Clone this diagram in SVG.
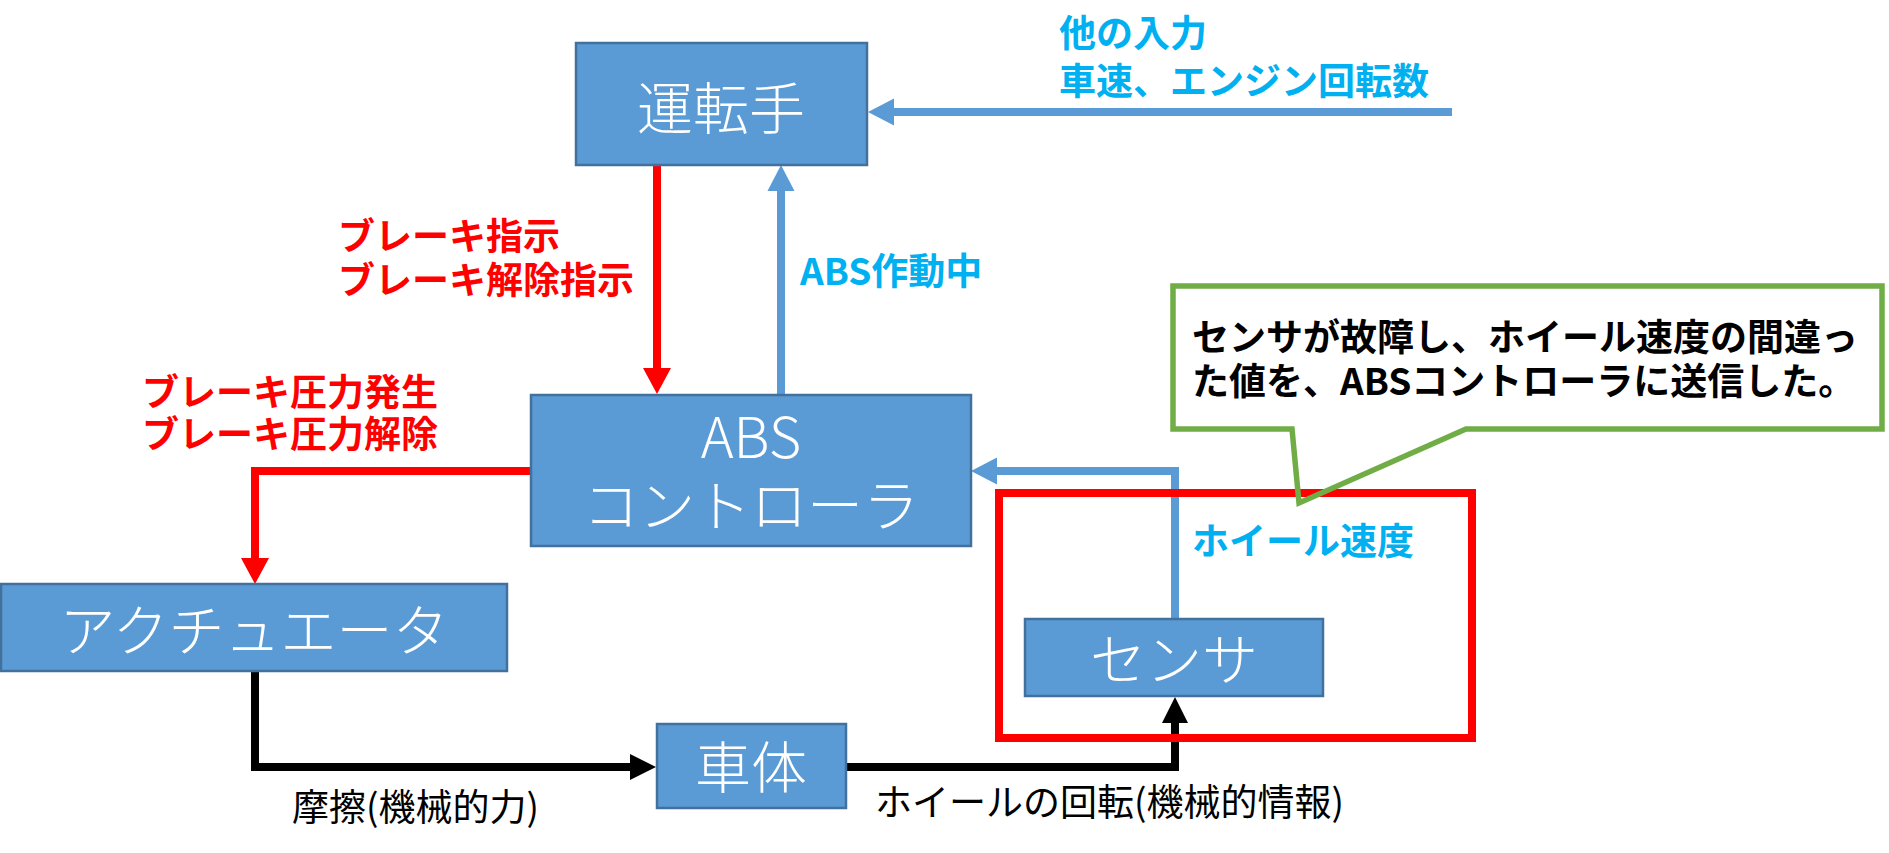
<svg xmlns="http://www.w3.org/2000/svg" width="1889" height="853" viewBox="0 0 1889 853">
<style>
.box{fill:#5B9BD5;stroke:#41719C;stroke-width:2.5}
.nt{font-family:"Noto Sans CJK JP","Noto Sans",sans-serif;font-weight:300;font-size:56px;fill:#fff;text-anchor:middle;dominant-baseline:central}
.lb{font-family:"Noto Sans CJK JP","Noto Sans",sans-serif;font-weight:bold;font-size:37px;dominant-baseline:central}
.red{fill:#FF0000}
.blue{fill:#00B0F0}
.blk{fill:#000}
.nl{font-family:"Noto Sans CJK JP","Noto Sans",sans-serif;font-weight:normal;font-size:37px;fill:#000;dominant-baseline:central}
.c{fill:none;stroke-width:8;stroke-linejoin:miter}
.cr{stroke:#FF0000}
.cb{stroke:#5B9BD5}
.ck{stroke:#000}
</style>
<defs>
<marker id="ab" markerUnits="userSpaceOnUse" markerWidth="26" markerHeight="27" refX="0" refY="13.5" orient="auto" overflow="visible"><path d="M0,0 L26,13.5 L0,27 Z" fill="#5B9BD5"/></marker>
<marker id="ar" markerUnits="userSpaceOnUse" markerWidth="26" markerHeight="28" refX="0" refY="14" orient="auto" overflow="visible"><path d="M0,0 L26,14 L0,28 Z" fill="#FF0000"/></marker>
<marker id="ak" markerUnits="userSpaceOnUse" markerWidth="26" markerHeight="26" refX="0" refY="13" orient="auto" overflow="visible"><path d="M0,0 L26,13 L0,26 Z" fill="#000"/></marker>
</defs>
<rect width="1889" height="853" fill="#fff"/>
<g id="connectors">
<path class="c cb" d="M1452,112 H894" marker-end="url(#ab)"/>
<path class="c cr" d="M657,165 V368" marker-end="url(#ar)"/>
<path class="c cb" d="M781,395 V191" marker-end="url(#ab)"/>
<path class="c cr" d="M531,471 H255 V558" marker-end="url(#ar)"/>
<path class="c ck" d="M255,671 V767 H630" marker-end="url(#ak)"/>
<path class="c ck" d="M846,767 H1175 V723" marker-end="url(#ak)"/>
<path class="c cb" d="M1175,618 V471 H997" marker-end="url(#ab)"/>
</g>
<g id="driver"><rect class="box" x="576" y="43" width="291" height="122"/><text class="nt" x="721" y="104">運転手</text></g>
<g id="abs"><rect class="box" x="531" y="395" width="440" height="151"/><text class="nt" x="751" y="433">ABS<tspan x="751" dy="68">コントローラ</tspan></text></g>
<g id="actuator"><rect class="box" x="1" y="584" width="506" height="87"/><text class="nt" x="254" y="626">アクチュエータ</text></g>
<g id="body"><rect class="box" x="657" y="724" width="189" height="84"/><text class="nt" x="751" y="763">車体</text></g>
<g id="sensor"><rect class="box" x="1025" y="619" width="298" height="77"/><text class="nt" x="1174" y="655">センサ</text></g>
<g id="fault-area"><rect x="999" y="493" width="473" height="245" fill="none" stroke="#FF0000" stroke-width="8"/></g>
<g id="callout">
<path d="M1173,286 H1882 V429 H1466 L1299,503 L1292,429 H1173 Z" fill="none" stroke="#70AD47" stroke-width="5.5"/>
<text class="lb blk" x="1192" y="335">センサが故障し、ホイール速度の間違っ<tspan x="1192" dy="44">た値を、ABSコントローラに送信した。</tspan></text>
</g>
<g id="labels">
<text class="lb blue" x="1059" y="31">他の入力<tspan x="1059" dy="48">車速、エンジン回転数</tspan></text>
<text class="lb red" x="338" y="234">ブレーキ指示<tspan x="338" dy="44">ブレーキ解除指示</tspan></text>
<text class="lb blue" x="800" y="269">ABS作動中</text>
<text class="lb red" x="142" y="390">ブレーキ圧力発生<tspan x="142" dy="42">ブレーキ圧力解除</tspan></text>
<text class="lb blue" x="1192" y="539">ホイール速度</text>
<text class="nl" x="292" y="805">摩擦(機械的力)</text>
<text class="nl" x="875" y="800">ホイールの回転(機械的情報)</text>
</g>
</svg>
